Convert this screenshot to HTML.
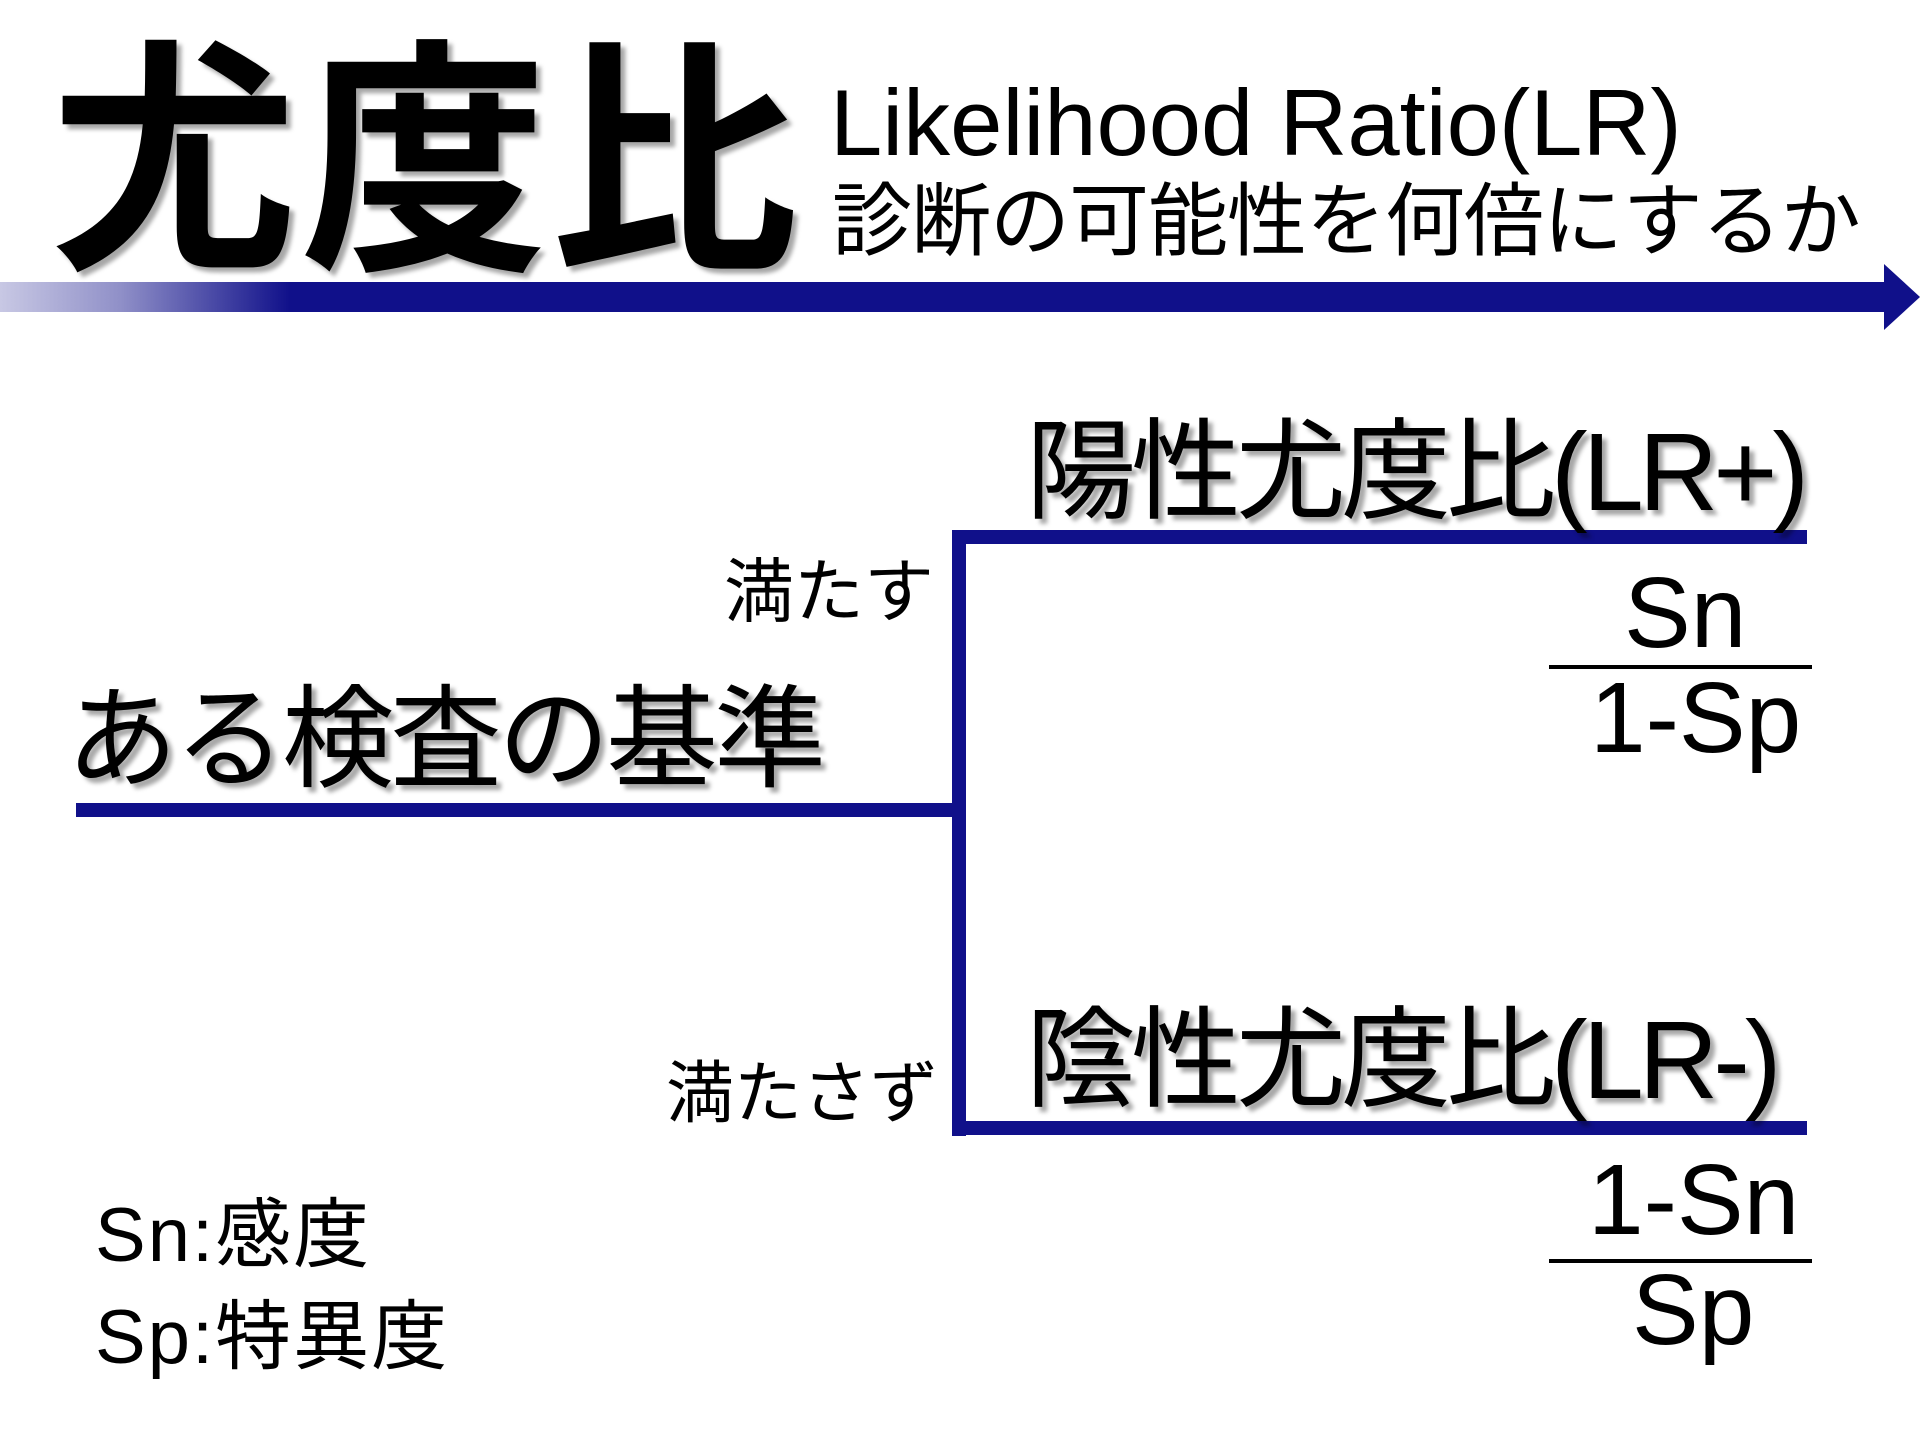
<!DOCTYPE html>
<html><head><meta charset="utf-8"><style>
html,body{margin:0;padding:0;}
body{width:1920px;height:1440px;background:#fff;position:relative;overflow:hidden;font-family:"Liberation Sans","Noto Sans CJK JP",sans-serif;color:#000;}
.t{position:absolute;white-space:nowrap;line-height:1;}
.sh{text-shadow:5px 5px 4px rgba(0,0,0,0.35);}
.ln{position:absolute;background:#10108a;}
.fl{position:absolute;background:#000;height:4px;}
</style></head><body>
<div class="t sh" style="left:50px;top:40px;font-size:248px;font-weight:bold;letter-spacing:2px;">尤度比</div>
<div class="t" style="left:830px;top:76px;font-size:94px;">Likelihood Ratio(LR)</div>
<div class="t" style="left:832px;top:182px;font-size:80px;letter-spacing:-1px;">診断の可能性を何倍にするか</div>
<div style="position:absolute;left:0;top:282px;width:1890px;height:30px;background:linear-gradient(90deg,#c8c8e4 0,#9090c8 120px,#10108a 290px,#10108a 100%);"></div>
<svg style="position:absolute;left:0;top:0" width="1920" height="1440"><polygon points="1884,264 1920,297 1884,330" fill="#10108a"/></svg>

<div class="ln" style="left:76px;top:803px;width:886px;height:14px;"></div>
<div class="ln" style="left:952px;top:530px;width:14px;height:606px;"></div>
<div class="ln" style="left:952px;top:530px;width:855px;height:14px;"></div>
<div class="ln" style="left:952px;top:1121px;width:855px;height:14px;"></div>

<div class="t sh" style="left:1026px;top:418px;font-size:110px;letter-spacing:-5px;">陽性尤度比(LR+)</div>
<div class="t sh" style="left:1026px;top:1006px;font-size:110px;letter-spacing:-5px;">陰性尤度比(LR-)</div>
<div class="t sh" style="left:66px;top:684px;font-size:112px;letter-spacing:-4px;">ある検査の基準</div>
<div class="t" style="left:724px;top:557px;font-size:70px;">満たす</div>
<div class="t" style="left:666px;top:1060px;font-size:68px;">満たさず</div>

<div class="t" style="left:1624px;top:563px;font-size:100px;">Sn</div>
<div class="fl" style="left:1549px;top:665px;width:263px;"></div>
<div class="t" style="left:1590px;top:668px;font-size:100px;">1-Sp</div>

<div class="t" style="left:1588px;top:1150px;font-size:100px;">1-Sn</div>
<div class="fl" style="left:1549px;top:1259px;width:263px;"></div>
<div class="t" style="left:1632px;top:1260px;font-size:100px;">Sp</div>

<div class="t" style="left:95px;top:1198px;font-size:76px;letter-spacing:2px;">Sn:感度</div>
<div class="t" style="left:95px;top:1300px;font-size:76px;letter-spacing:2px;">Sp:特異度</div>
</body></html>
